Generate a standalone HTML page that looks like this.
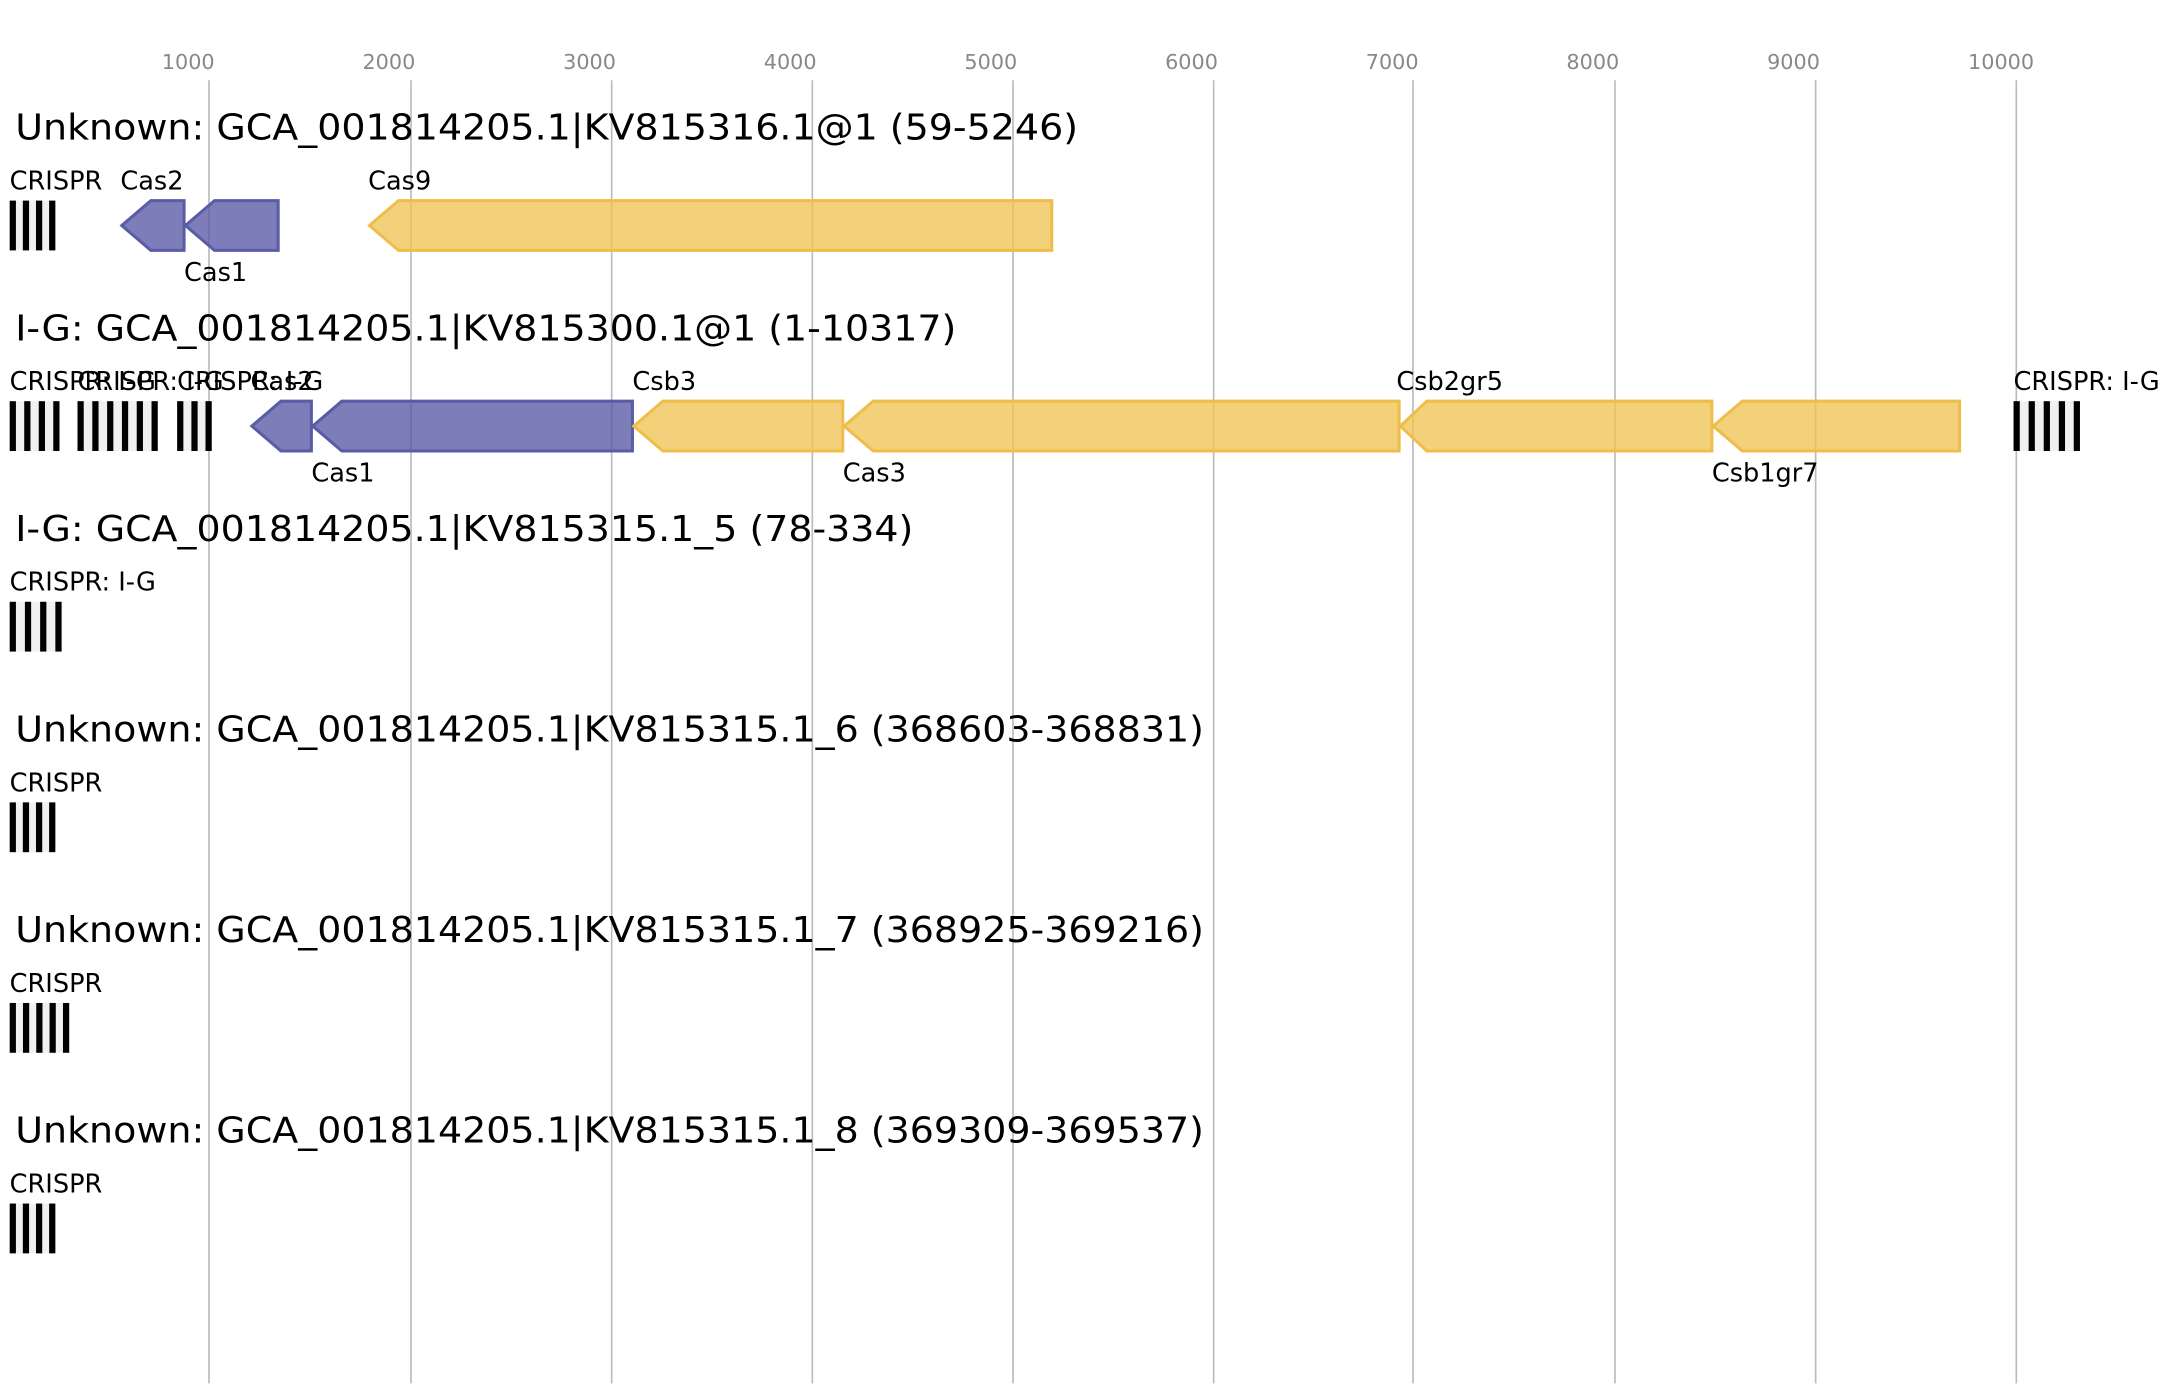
<!DOCTYPE html>
<html><head><meta charset="utf-8"><style>html,body{margin:0;padding:0;background:#fff}svg{display:block}</style></head>
<body>
<svg width="2163" height="1400" viewBox="0 0 1563 1012" preserveAspectRatio="none" xmlns="http://www.w3.org/2000/svg" font-family="DejaVu Sans, sans-serif">
<rect width="1563" height="1012" fill="#fff"/>
<g stroke="#bbb" stroke-width="1.2">
<line x1="151" y1="58" x2="151" y2="1000"/><line x1="297" y1="58" x2="297" y2="1000"/><line x1="442" y1="58" x2="442" y2="1000"/><line x1="587" y1="58" x2="587" y2="1000"/><line x1="732" y1="58" x2="732" y2="1000"/><line x1="877" y1="58" x2="877" y2="1000"/><line x1="1021" y1="58" x2="1021" y2="1000"/><line x1="1167" y1="58" x2="1167" y2="1000"/><line x1="1312" y1="58" x2="1312" y2="1000"/><line x1="1457" y1="58" x2="1457" y2="1000"/>
</g>
<g fill="#888" font-size="15" text-anchor="middle">
<text x="136" y="50">1000</text><text x="281" y="50">2000</text><text x="426" y="50">3000</text><text x="571" y="50">4000</text><text x="716" y="50">5000</text><text x="861" y="50">6000</text><text x="1006" y="50">7000</text><text x="1151" y="50">8000</text><text x="1296" y="50">9000</text><text x="1446" y="50">10000</text>
</g>
<g fill="#000" font-size="26">
<text x="11" y="101" textLength="768" lengthAdjust="spacingAndGlyphs">Unknown: GCA_001814205.1|KV815316.1@1 (59-5246)</text>
<text x="11" y="246" textLength="680" lengthAdjust="spacingAndGlyphs">I-G: GCA_001814205.1|KV815300.1@1 (1-10317)</text>
<text x="11" y="391" textLength="649" lengthAdjust="spacingAndGlyphs">I-G: GCA_001814205.1|KV815315.1_5 (78-334)</text>
<text x="11" y="536" textLength="859" lengthAdjust="spacingAndGlyphs">Unknown: GCA_001814205.1|KV815315.1_6 (368603-368831)</text>
<text x="11" y="681" textLength="859" lengthAdjust="spacingAndGlyphs">Unknown: GCA_001814205.1|KV815315.1_7 (368925-369216)</text>
<text x="11" y="826" textLength="859" lengthAdjust="spacingAndGlyphs">Unknown: GCA_001814205.1|KV815315.1_8 (369309-369537)</text>
</g>
<g fill="#000" font-size="18.5">
<text x="7" y="137">CRISPR</text><text x="87" y="137">Cas2</text><text x="133" y="203">Cas1</text><text x="266" y="137">Cas9</text>
<text x="7" y="282">CRISPR: I-G</text><text x="56" y="282">CRISPR: I-G</text><text x="128" y="282">CRISPR: I-G</text><text x="181" y="282">Cas2</text>
<text x="225" y="348">Cas1</text><text x="457" y="282">Csb3</text><text x="609" y="348">Cas3</text><text x="1009" y="282">Csb2gr5</text><text x="1237" y="348">Csb1gr7</text><text x="1455" y="282">CRISPR: I-G</text>
<text x="7" y="427">CRISPR: I-G</text><text x="7" y="572">CRISPR</text><text x="7" y="717">CRISPR</text><text x="7" y="862">CRISPR</text>
</g>
<g>
<rect x="7" y="145" width="33" height="36" fill="#f0f0f0"/>
<g fill="#000"><rect x="7" y="145" width="4.5" height="36"/><rect x="16.5" y="145" width="4.5" height="36"/><rect x="26" y="145" width="4.5" height="36"/><rect x="35.5" y="145" width="4.5" height="36"/></g>
<rect x="7" y="290" width="36" height="36" fill="#f0f0f0"/>
<g fill="#000"><rect x="7" y="290" width="4.5" height="36"/><rect x="17.5" y="290" width="4.5" height="36"/><rect x="28" y="290" width="4.5" height="36"/><rect x="38.5" y="290" width="4.5" height="36"/></g>
<rect x="56" y="290" width="58" height="36" fill="#f0f0f0"/>
<g fill="#000"><rect x="56" y="290" width="4.5" height="36"/><rect x="66.7" y="290" width="4.5" height="36"/><rect x="77.4" y="290" width="4.5" height="36"/><rect x="88.1" y="290" width="4.5" height="36"/><rect x="98.8" y="290" width="4.5" height="36"/><rect x="109.5" y="290" width="4.5" height="36"/></g>
<rect x="128" y="290" width="25" height="36" fill="#f0f0f0"/>
<g fill="#000"><rect x="128" y="290" width="4.5" height="36"/><rect x="138.3" y="290" width="4.5" height="36"/><rect x="148.5" y="290" width="4.5" height="36"/></g>
<rect x="1455" y="290" width="48" height="36" fill="#f0f0f0"/>
<g fill="#000"><rect x="1455" y="290" width="4.5" height="36"/><rect x="1465.9" y="290" width="4.5" height="36"/><rect x="1476.8" y="290" width="4.5" height="36"/><rect x="1487.7" y="290" width="4.5" height="36"/><rect x="1498.5" y="290" width="4.5" height="36"/></g>
<rect x="7" y="435" width="38" height="36" fill="#f0f0f0"/>
<g fill="#000"><rect x="7" y="435" width="4.5" height="36"/><rect x="18" y="435" width="4.5" height="36"/><rect x="29" y="435" width="4.5" height="36"/><rect x="40" y="435" width="4.5" height="36"/></g>
<rect x="7" y="580" width="33" height="36" fill="#f0f0f0"/>
<g fill="#000"><rect x="7" y="580" width="4.5" height="36"/><rect x="16.5" y="580" width="4.5" height="36"/><rect x="26" y="580" width="4.5" height="36"/><rect x="35.5" y="580" width="4.5" height="36"/></g>
<rect x="7" y="725" width="43" height="36" fill="#f0f0f0"/>
<g fill="#000"><rect x="7" y="725" width="4.5" height="36"/><rect x="16.6" y="725" width="4.5" height="36"/><rect x="26.2" y="725" width="4.5" height="36"/><rect x="35.8" y="725" width="4.5" height="36"/><rect x="45.5" y="725" width="4.5" height="36"/></g>
<rect x="7" y="870" width="33" height="36" fill="#f0f0f0"/>
<g fill="#000"><rect x="7" y="870" width="4.5" height="36"/><rect x="16.5" y="870" width="4.5" height="36"/><rect x="26" y="870" width="4.5" height="36"/><rect x="35.5" y="870" width="4.5" height="36"/></g>
</g>
<g stroke-width="2.2" stroke-linejoin="miter">
<g fill="rgba(87,89,165,0.78)" stroke="#5a5ca6">
<polygon points="88,163 109,145 133,145 133,181 109,181"/>
<polygon points="134,163 155,145 201,145 201,181 155,181"/>
<polygon points="182,308 203,290 225,290 225,326 203,326"/>
<polygon points="226,308 247,290 457,290 457,326 247,326"/>
</g>
<g fill="rgba(240,196,84,0.78)" stroke="#eebd4a">
<polygon points="267,163 288,145 760,145 760,181 288,181"/>
<polygon points="458,308 479,290 609,290 609,326 479,326"/>
<polygon points="610,308 631,290 1011,290 1011,326 631,326"/>
<polygon points="1012,308 1031,290 1237,290 1237,326 1031,326"/>
<polygon points="1238,308 1259,290 1416,290 1416,326 1259,326"/>
</g>
</g>
</svg>
</body></html>
